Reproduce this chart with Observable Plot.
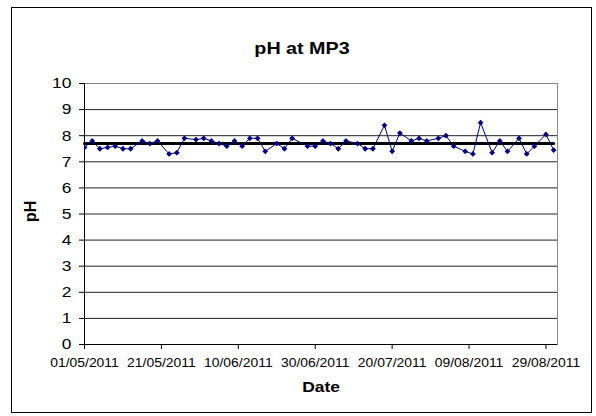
<!DOCTYPE html>
<html><head><meta charset="utf-8">
<script src="https://cdn.jsdelivr.net/npm/d3@7"></script>
<script src="https://cdn.jsdelivr.net/npm/@observablehq/plot@0.6"></script>
<style>
body{margin:0;background:#fff;}
#wrap{position:relative;width:596px;height:416px;overflow:hidden;}
#border{position:absolute;left:11px;top:7px;width:579px;height:404px;border:1px solid #000;pointer-events:none;}
#wrap svg{position:absolute;left:0;top:0;}
</style></head><body>
<div id="wrap"><div id="border"></div></div>
<script>
const dates = ["2011-05-01","2011-05-03","2011-05-05","2011-05-07","2011-05-09","2011-05-11","2011-05-13","2011-05-16","2011-05-18","2011-05-20","2011-05-23","2011-05-25","2011-05-27","2011-05-30","2011-06-01","2011-06-03","2011-06-05","2011-06-07","2011-06-09","2011-06-11","2011-06-13","2011-06-15","2011-06-17","2011-06-20","2011-06-22","2011-06-24","2011-06-28","2011-06-30","2011-07-02","2011-07-04","2011-07-06","2011-07-08","2011-07-11","2011-07-13","2011-07-15","2011-07-18","2011-07-20","2011-07-22","2011-07-25","2011-07-27","2011-07-29","2011-08-01","2011-08-03","2011-08-05","2011-08-08","2011-08-10","2011-08-12","2011-08-15","2011-08-17","2011-08-19","2011-08-22","2011-08-24","2011-08-26","2011-08-29","2011-08-31"];
const ph = [7.55,7.8,7.5,7.55,7.6,7.5,7.5,7.8,7.7,7.8,7.3,7.35,7.9,7.85,7.9,7.8,7.7,7.6,7.8,7.6,7.9,7.9,7.4,7.7,7.5,7.9,7.6,7.6,7.8,7.7,7.5,7.8,7.7,7.5,7.5,8.4,7.4,8.1,7.8,7.9,7.8,7.9,8.0,7.6,7.4,7.3,8.5,7.35,7.8,7.4,7.9,7.3,7.6,8.05,7.45];
const meanPH = 7.7;
const xTickLabels = ["2011-05-01","2011-05-21","2011-06-10","2011-06-30","2011-07-20","2011-08-09","2011-08-29"];
const yTicks = [0,1,2,3,4,5,6,7,8,9,10];
const xDomain = ["2011-05-01","2011-09-01"];

const data = dates.map((d, i) => ({date: new Date(d), ph: ph[i]}));
const meanLine = [{date: new Date(dates[0]), ph: meanPH}, {date: new Date(dates[dates.length - 1]), ph: meanPH}];
const font = "'Liberation Sans', Arial, sans-serif";

const chart = Plot.plot({
  width: 596, height: 416,
  marginLeft: 84, marginRight: 39, marginTop: 83, marginBottom: 72,
  style: {fontFamily: font, background: "transparent", color: "#000"},
  x: {type: "utc", domain: xDomain.map(d => new Date(d))},
  y: {domain: [0, 10]},
  marks: [
    Plot.ruleY(yTicks.filter(v => v > 0 && v < 10), {stroke: "#222", strokeWidth: 1}),
    Plot.frame({stroke: "#888"}),
    Plot.ruleY([0], {stroke: "#000"}),
    Plot.ruleX([new Date(xDomain[0])], {stroke: "#000"}),
    Plot.axisY({ticks: yTicks, tickSize: 5, tickPadding: 8, fontSize: 15, label: null}),
    Plot.axisX({ticks: xTickLabels.map(d => new Date(d)), tickFormat: d3.utcFormat("%d/%m/%Y"), tickSize: 5, tickPadding: 9, fontSize: 12, label: null}),
    Plot.lineY(meanLine, {x: "date", y: "ph", stroke: "#000", strokeWidth: 3}),
    Plot.lineY(data, {x: "date", y: "ph", stroke: "#000080", strokeWidth: 1}),
    Plot.dot(data, {x: "date", y: "ph", symbol: "square", r: 2.3, rotate: 45, fill: "#000080", stroke: "none", clip: true}),
    Plot.text(["pH at MP3"], {frameAnchor: "top", dx: -19, dy: -42, fontSize: 17, fontWeight: "bold"}),
    Plot.text(["Date"], {frameAnchor: "bottom", dy: 47, fontSize: 15, fontWeight: "bold"}),
    Plot.text(["pH"], {frameAnchor: "left", dx: -54, dy: 8, rotate: -90, fontSize: 16, fontWeight: "bold"})
  ]
});
document.getElementById("wrap").appendChild(chart);
// the reference's lettering is slightly wide: stretch horizontal texts
chart.querySelectorAll("text").forEach(t => {
  const horizontal = t.closest('[aria-label="x-axis tick label"], [aria-label="y-axis tick label"]') || ["pH at MP3", "Date"].includes(t.textContent);
  if (horizontal) {
    const w = t.getComputedTextLength();
    t.setAttribute("textLength", (w * 1.16).toFixed(1));
    t.setAttribute("lengthAdjust", "spacingAndGlyphs");
  }
});
</script>
</body></html>
